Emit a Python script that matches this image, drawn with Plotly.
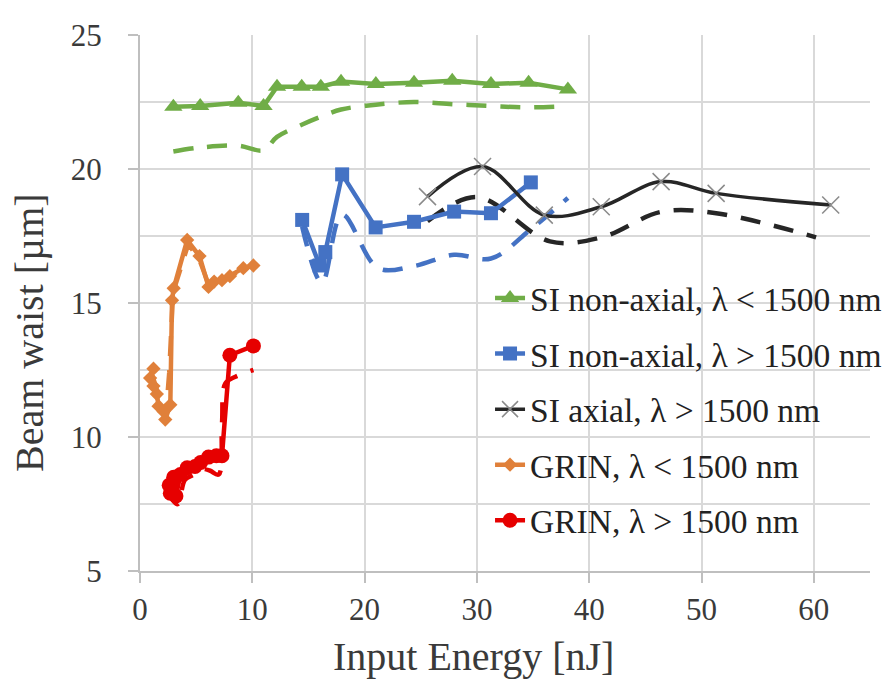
import plotly.graph_objects as go

# ---------------- data ----------------
si_na_lt_x = [2.97, 5.36, 8.75, 11.0, 12.2, 14.4, 16.1, 17.9, 21.0, 24.4, 27.8, 31.25, 34.6, 38.1]
si_na_lt_y = [22.32, 22.35, 22.47, 22.35, 23.07, 23.07, 23.07, 23.26, 23.17, 23.22, 23.29, 23.17, 23.22, 22.97]
si_na_lt_sim_y = [20.65, 20.8, 20.87, 20.7, 21.2, 21.65, 21.95, 22.22, 22.4, 22.5, 22.42, 22.35, 22.3, 22.35]

si_na_gt_x = [14.44, 16.0, 16.5, 18.0, 20.98, 24.4, 27.97, 31.25, 34.8]
si_na_gt_y = [18.1, 16.4, 16.9, 19.8, 17.82, 18.03, 18.41, 18.35, 19.5]
si_na_gt_sim_x = [14.44, 16.2, 18.0, 21.2, 24.4, 27.97, 31.25, 34.8, 38.1]
si_na_gt_sim_y = [17.85, 15.75, 18.3, 16.3, 16.38, 16.8, 16.66, 17.75, 18.92]

si_ax_x = [25.6, 30.5, 36.0, 41.07, 46.4, 51.3, 61.5]
si_ax_y = [18.97, 20.09, 18.28, 18.59, 19.53, 19.09, 18.66]
si_ax_sim_x = [25.6, 30.0, 36.5, 41.1, 46.4, 51.3, 60.2]
si_ax_sim_y = [18.05, 18.95, 17.3, 17.45, 18.4, 18.35, 17.45]

grin_lt_x = [1.2, 0.9, 1.2, 1.5, 1.65, 2.1, 2.25, 2.7, 2.85, 3.0, 4.2, 5.3, 6.1, 6.6, 7.3, 8.0, 9.2, 10.1]
grin_lt_y = [12.55, 12.2, 11.9, 11.6, 11.15, 10.95, 10.65, 11.2, 15.1, 15.55, 17.35, 16.75, 15.6, 15.8, 15.85, 16.0, 16.3, 16.4]
grin_lt_sim_x = [1.1, 1.4, 1.7, 2.0, 2.3, 2.6, 2.9, 3.1, 4.3, 5.3, 6.1, 7.0, 8.0, 9.2, 10.1]
grin_lt_sim_y = [12.3, 11.9, 11.4, 11.1, 10.8, 12.4, 15.0, 15.6, 17.2, 16.6, 15.7, 15.85, 16.0, 16.25, 16.4]

grin_gt_x = [2.6, 2.7, 3.0, 3.2, 3.6, 4.2, 4.9, 5.4, 6.1, 6.8, 7.3, 8.0, 10.1]
grin_gt_y = [8.2, 7.9, 8.5, 7.8, 8.6, 8.85, 8.9, 9.05, 9.25, 9.3, 9.3, 13.05, 13.4]
grin_gt_sim_x = [2.6, 3.0, 3.4, 4.0, 4.8, 5.5, 6.2, 7.0, 7.3, 7.6, 8.5, 10.1]
grin_gt_sim_y = [8.1, 7.6, 7.5, 8.4, 8.6, 8.8, 8.75, 8.6, 10.5, 12.0, 12.25, 12.5]

names = ["SI non-axial, λ < 1500 nm", "SI non-axial, λ > 1500 nm",
         "SI axial, λ > 1500 nm", "GRIN, λ < 1500 nm", "GRIN, λ > 1500 nm"]

x_ticks = [0, 10, 20, 30, 40, 50, 60]
y_ticks = [5, 10, 15, 20, 25]

# ---------------- styles ----------------
GREEN = "#70AD47"
BLUE = "#4472C4"
BLACK = "#262626"
ORANGE = "#E0803A"
RED = "#E60000"
FONT = "Liberation Serif"
DASH = "20px,14px"

fig = go.Figure()

def sim(x, y, color, shape="spline"):
    fig.add_trace(go.Scatter(x=x, y=y, mode="lines", showlegend=False, hoverinfo="skip",
                             line=dict(color=color, width=4.5, dash=DASH, shape=shape, smoothing=1)))

def meas(x, y, color, name, symbol, size, shape="linear", mcolor=None, mline=0, lw=4.5):
    fig.add_trace(go.Scatter(x=x, y=y, mode="lines+markers", name=name, legendgroup=name,
                             line=dict(color=color, width=lw, shape=shape, smoothing=1),
                             marker=dict(symbol=symbol, size=size, color=mcolor or color,
                                         line=dict(width=mline, color=mcolor or color))))

sim(si_na_lt_x, si_na_lt_sim_y, GREEN)
sim(si_na_gt_sim_x, si_na_gt_sim_y, BLUE)
sim(si_ax_sim_x, si_ax_sim_y, BLACK)
sim(grin_lt_sim_x, grin_lt_sim_y, ORANGE, shape="linear")
sim(grin_gt_sim_x, grin_gt_sim_y, RED)

meas(si_na_lt_x, si_na_lt_y, GREEN, names[0], "triangle-up", 16)
meas(si_na_gt_x, si_na_gt_y, BLUE, names[1], "square", 14)
meas(si_ax_x, si_ax_y, BLACK, names[2], "x-thin", 17, shape="spline", mcolor="#8a8a8a", mline=1.5, lw=3.5)
meas(grin_lt_x, grin_lt_y, ORANGE, names[3], "diamond", 11)
meas(grin_gt_x, grin_gt_y, RED, names[4], "circle", 15)

axis_common = dict(
    showgrid=True, gridcolor="#d9d9d9", gridwidth=1.5,
    showline=True, linecolor="#bfbfbf", linewidth=2,
    ticks="outside", ticklen=10, tickcolor="#bfbfbf", tickwidth=2,
    zeroline=False, automargin=False,
    tickfont=dict(family=FONT, size=31, color="#3a3a3a"),
)

fig.update_xaxes(range=[0, 65], tickvals=x_ticks, ticklabelstandoff=0, **axis_common)
fig.update_yaxes(range=[5, 25], tickvals=y_ticks, ticklabelstandoff=20,
                 minor=dict(tickvals=[7.5, 12.5, 17.5, 22.5], showgrid=True,
                            gridcolor="#d9d9d9", gridwidth=1.5, ticks=""),
                 **axis_common)

fig.update_layout(
    width=884, height=680,
    margin=dict(l=140, r=14, t=35, b=109, autoexpand=False),
    plot_bgcolor="white", paper_bgcolor="white",
    font=dict(family=FONT, color="#3a3a3a"),
    legend=dict(x=0.4795, y=0.562, xanchor="left", yanchor="top",
                bgcolor="rgba(0,0,0,0)", font=dict(family=FONT, size=33.5, color="#222222"),
                tracegroupgap=9, itemwidth=30),
    annotations=[
        dict(text="Beam waist [µm]", xref="paper", yref="paper", x=-0.1507, y=0.446,
             xanchor="center", yanchor="middle", textangle=-90, showarrow=False,
             font=dict(family=FONT, size=40, color="#3a3a3a")),
        dict(text="Input Energy [nJ]", xref="paper", yref="paper", x=0.4575, y=-0.159,
             xanchor="center", yanchor="middle", showarrow=False,
             font=dict(family=FONT, size=40, color="#3a3a3a")),
    ],
)

fig.write_html("out.html", config={"displayModeBar": False},
               post_script="document.body.style.margin='0';document.body.style.overflow='hidden';")
